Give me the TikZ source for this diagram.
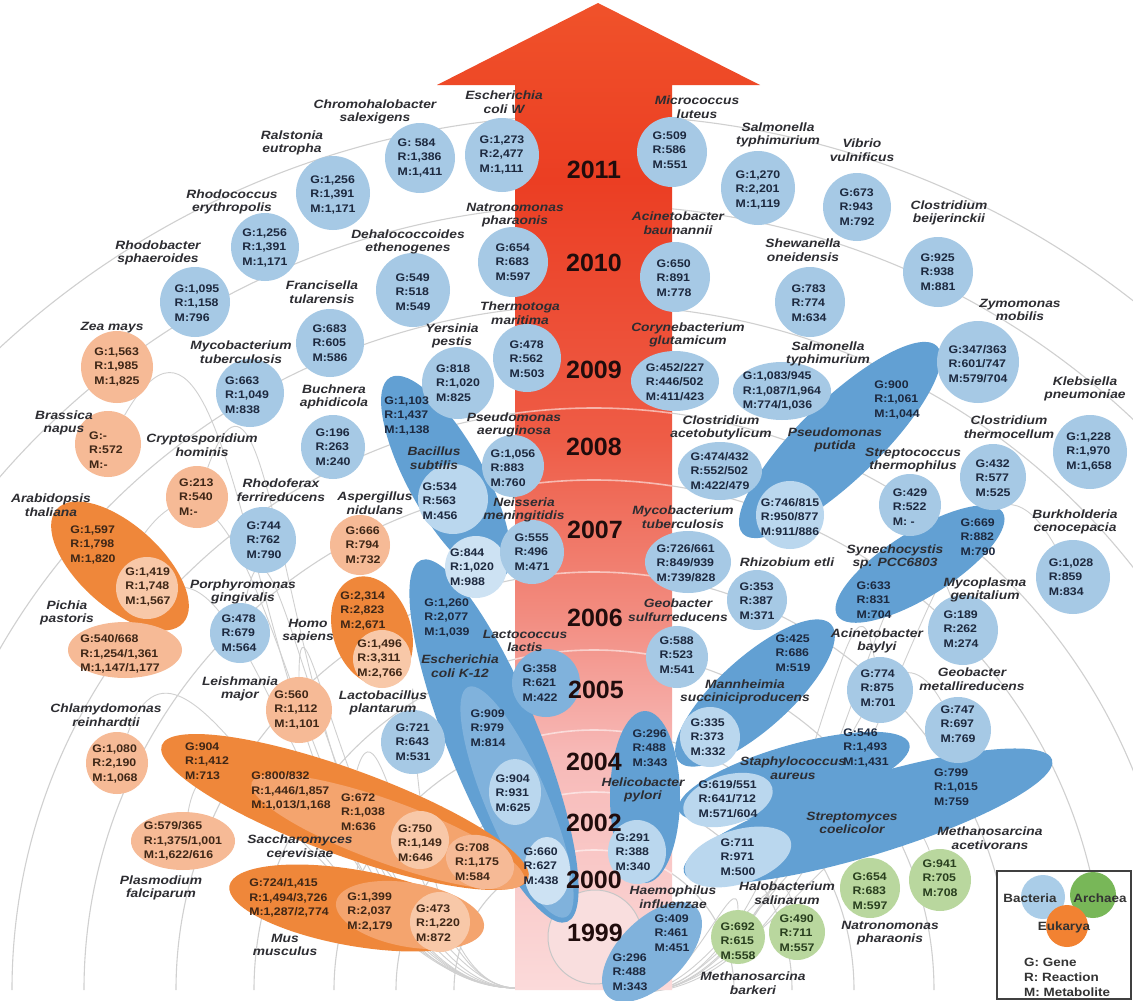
\documentclass[tikz,border=0pt]{standalone}
\usepackage{fontspec}
\setmainfont{Liberation Sans}
\newfontfamily\nmfont[FakeStretch=1.15]{Liberation Sans}
\newfontfamily\dtfont[FakeStretch=1.12]{Liberation Sans}
\usetikzlibrary{shapes.geometric}
\definecolor{bactc}{RGB}{166,201,229}
\definecolor{bactin}{RGB}{186,215,238}
\definecolor{bpale}{RGB}{205,226,243}
\definecolor{bmid}{RGB}{128,178,220}
\definecolor{grpb}{RGB}{98,160,211}
\definecolor{eukc}{RGB}{246,186,150}
\definecolor{eukmid}{RGB}{244,164,110}
\definecolor{eukd}{RGB}{239,135,58}
\definecolor{eukin}{RGB}{248,200,168}
\definecolor{archc}{RGB}{185,215,158}
\definecolor{namec}{RGB}{45,45,50}
\definecolor{datb}{RGB}{28,40,62}
\definecolor{date}{RGB}{62,38,22}
\definecolor{data}{RGB}{40,62,30}
\definecolor{ringc}{RGB}{208,208,208}
\definecolor{yearc}{RGB}{32,12,12}
\definecolor{legb}{RGB}{170,205,232}
\definecolor{lega}{RGB}{120,183,88}
\definecolor{lege}{RGB}{242,130,50}
\definecolor{pk}{RGB}{249,222,222}
\definecolor{arA}{RGB}{251,218,218}
\definecolor{arB}{RGB}{247,185,183}
\definecolor{arC}{RGB}{242,140,128}
\definecolor{arD}{RGB}{238,92,70}
\definecolor{arE}{RGB}{235,62,35}
\definecolor{arF}{RGB}{240,82,42}
\pgfdeclareverticalshading{arrowsh}{100bp}{color(0bp)=(arA); color(25bp)=(arA); color(37bp)=(arB); color(44bp)=(arC); color(53bp)=(arD); color(66bp)=(arE); color(75bp)=(arF); color(100bp)=(arF)}
\pgfdeclarelayer{back}
\pgfdeclarelayer{arr}
\pgfsetlayers{back,arr,main}
\tikzset{
  nm/.style={font=\nmfont\bfseries\itshape\fontsize{12}{13.5}\selectfont,text=namec,align=center,inner sep=0pt},
  dt/.style={font=\dtfont\bfseries\fontsize{11}{14.5}\selectfont,text=datb,align=left,inner sep=0pt},
  dte/.style={dt,text=date},
  dta/.style={dt,text=data},
  bc/.style={circle,fill=bactc,inner sep=0pt},
  bi/.style={fill=bactin,inner sep=0pt},
  gb/.style={ellipse,fill=grpb,inner sep=0pt},
  ec/.style={circle,fill=eukc,inner sep=0pt},
  ed/.style={ellipse,fill=eukd,inner sep=0pt},
  ac/.style={circle,fill=archc,inner sep=0pt},
  yr/.style={font=\bfseries\fontsize{25}{25}\selectfont,text=yearc,inner sep=0pt},
  ring/.style={draw=ringc,line width=1.1pt},
  fan/.style={draw=ringc,line width=0.9pt},
  lgt/.style={font=\dtfont\bfseries\fontsize{12}{14}\selectfont,text=black!80,inner sep=0pt},
}
\begin{document}
\begin{tikzpicture}[x=1pt,y=-1pt]
\useasboundingbox (0,0) rectangle (1133,1001);
\coordinate (B) at (594,990);
\begin{pgfonlayer}{back}
\fill[white] (0,0) rectangle (1133,1001);
\foreach \r in {140,198,260,340,418,510,582,685,785,875}
  \draw[ring] (B) ++(180:\r) arc[start angle=180,end angle=360,radius=\r];
\end{pgfonlayer}
\begin{pgfonlayer}{arr}
\shade[shading=arrowsh] (515,990) -- (515,85) -- (437,85) -- (598,3) -- (760,85) -- (672,85) -- (672,990) -- cycle;
\begin{scope}
\clip (515,85) rectangle (672,990);
\foreach \r in {140,198,260,340,418,510,582}
  \draw[white,opacity=.55,line width=1.6pt] (B) ++(180:\r) arc[start angle=180,end angle=360,radius=\r];
\end{scope}
\node[circle,draw=black!22,line width=1pt,fill=pk,minimum size=94pt] (c1999) at (595,937) {};
\end{pgfonlayer}

% ===== group ellipses (bacteria) =====
\node[gb,minimum width=390pt,minimum height=92pt,rotate=-68] (ecolik) at (494,741) {};
\node[ellipse,fill=bmid,inner sep=0pt,minimum width=250pt,minimum height=62pt,rotate=-67] (ecolikin) at (517,802) {};
\node[ellipse,fill=bactin,inner sep=0pt,minimum width=52pt,minimum height=66pt] (ecolik2) at (515,792) {};
\node[ellipse,fill=bpale,inner sep=0pt,minimum width=46pt,minimum height=68pt] (ecolik3) at (547,871) {};
\node[gb,minimum width=230pt,minimum height=76pt,rotate=-61] (bsub) at (446,478) {};
\node[bi,circle,minimum size=70pt] (bsubin) at (453,499) {};
\node[circle,fill=bpale,inner sep=0pt,minimum size=62pt] (bsubin2) at (476,567) {};
\node[gb,minimum width=270pt,minimum height=80pt,rotate=44] (putida) at (840,440) {};
\node[bi,circle,minimum size=68pt] (putin) at (790,515) {};
\node[gb,minimum width=195pt,minimum height=66pt,rotate=32] (synech) at (920,564) {};
\node[gb,minimum width=205pt,minimum height=72pt,rotate=42] (mann) at (755,693) {};
\node[bi,circle,minimum size=60pt] (mannin) at (710,737) {};
\node[gb,minimum width=240pt,minimum height=64pt,rotate=16] (staph) at (794,777) {};
\node[bi,ellipse,minimum width=92pt,minimum height=50pt,rotate=16] (staphin) at (728,800) {};
\node[gb,minimum width=385pt,minimum height=78pt,rotate=17] (strep) at (868,816) {};
\node[bi,ellipse,minimum width=110pt,minimum height=54pt,rotate=17] (strepin) at (738,857) {};
\node[gb,minimum width=70pt,minimum height=172pt] (helico) at (645,797) {};
\node[bi,ellipse,minimum width=58pt,minimum height=64pt] (helin) at (637,852) {};
\node[ellipse,fill=bmid,inner sep=0pt,minimum width=125pt,minimum height=66pt,rotate=45] (haemo) at (652,952) {};

% ===== group ellipses (eukarya) =====
\node[ed,minimum width=170pt,minimum height=82pt,rotate=-42] (arab) at (120,566) {};
\node[circle,fill=eukin,inner sep=0pt,minimum size=62pt] (arabin) at (147,588) {};
\node[ed,minimum width=112pt,minimum height=78pt,rotate=-72] (homo) at (372,631) {};
\node[circle,fill=eukin,inner sep=0pt,minimum size=58pt] (homoin) at (382,659) {};
\node[ed,minimum width=390pt,minimum height=86pt,rotate=-20] (sacch) at (345,812) {};
\node[ellipse,fill=eukmid,inner sep=0pt,minimum width=290pt,minimum height=62pt,rotate=-20] (sacchin) at (388,832) {};
\node[circle,fill=eukin,inner sep=0pt,minimum size=58pt] (sacchin2) at (420,840) {};
\node[ellipse,fill=eukc,inner sep=0pt,minimum width=70pt,minimum height=52pt,rotate=-20] (sacchin3) at (480,862) {};
\node[ed,minimum width=255pt,minimum height=76pt,rotate=-10] (mus) at (355,908) {};
\node[ellipse,fill=eukmid,inner sep=0pt,minimum width=150pt,minimum height=64pt,rotate=-10] (musin) at (410,915) {};
\node[circle,fill=eukin,inner sep=0pt,minimum size=60pt] (musin2) at (440,922) {};

% ===== single organisms =====
\node[bc,minimum size=70pt] (chrom) at (420,158) {};
\node[bc,minimum size=74pt] (ecw) at (502,155) {};
\node[bc,minimum size=74pt] (ralst) at (333,193) {};
\node[bc,minimum size=68pt] (rhodoc) at (265,247) {};
\node[bc,minimum size=70pt] (rhodob) at (195,302) {};
\node[ec,minimum size=72pt] (zea) at (117,367) {};
\node[bc,minimum size=74pt] (dehalo) at (413,290) {};
\node[bc,minimum size=68pt] (franc) at (330,343) {};
\node[bc,minimum size=68pt] (mtbl) at (250,393) {};
\node[bc,minimum size=70pt] (natt) at (513,262) {};
\node[bc,minimum size=68pt] (thermo) at (527,358) {};
\node[bc,minimum size=72pt] (yers) at (458,383) {};
\node[bc,minimum size=64pt] (buch) at (333,447) {};
\node[bc,minimum size=70pt] (micro) at (672,152) {};
\node[bc,minimum size=74pt] (salmt) at (758,188) {};
\node[bc,minimum size=68pt] (vibrio) at (857,207) {};
\node[bc,minimum size=70pt] (clbei) at (938,272) {};
\node[bc,minimum size=70pt] (acibau) at (675,277) {};
\node[bc,minimum size=70pt] (shew) at (810,302) {};
\node[ellipse,fill=bactc,inner sep=0pt,minimum width=88pt,minimum height=60pt] (coryne) at (675,381) {};
\node[ellipse,fill=bactc,inner sep=0pt,minimum width=98pt,minimum height=58pt] (salm2) at (782,391) {};
\node[bc,minimum size=82pt] (zymo) at (978,362) {};
\node[bc,minimum size=74pt] (kleb) at (1090,452) {};
\node[bc,minimum size=66pt] (clther) at (993,477) {};
\node[ellipse,fill=bactc,inner sep=0pt,minimum width=84pt,minimum height=58pt] (clacet) at (720,471) {};
\node[bc,minimum size=62pt] (strth) at (910,505) {};
\node[ellipse,fill=bactc,inner sep=0pt,minimum width=86pt,minimum height=62pt] (mtbr) at (688,562) {};
\node[bc,minimum size=60pt] (rhiz) at (757,600) {};
\node[bc,minimum size=62pt] (geosul) at (677,657) {};
\node[bc,minimum size=70pt] (myco) at (963,630) {};
\node[bc,minimum size=74pt] (burk) at (1073,577) {};
\node[bc,minimum size=66pt] (acibay) at (880,690) {};
\node[bc,minimum size=66pt] (geomet) at (958,730) {};
\node[ac,minimum size=56pt] (halo) at (797,932) {};
\node[ac,minimum size=54pt] (mbark) at (738,937) {};
\node[ac,minimum size=60pt] (natb) at (870,888) {};
\node[ac,minimum size=62pt] (macet) at (940,880) {};
\node[bc,minimum size=62pt] (paer) at (513,466) {};
\node[bc,minimum size=64pt] (neis) at (532,552) {};
\node[ec,minimum size=60pt] (asp) at (360,545) {};
\node[circle,fill=bmid,inner sep=0pt,minimum size=68pt] (lactis) at (546,683) {};
\node[bc,minimum size=64pt] (lactob) at (413,742) {};
\node[ec,minimum size=66pt] (leish) at (299,710) {};
\node[bc,minimum size=66pt] (rhodof) at (263,540) {};
\node[bc,minimum size=60pt] (porph) at (240,633) {};
\node[ec,minimum size=66pt] (brass) at (108,444) {};
\node[ec,minimum size=62pt] (crypt) at (197,497) {};
\node[ellipse,fill=eukc,inner sep=0pt,minimum width=114pt,minimum height=56pt] (pichia) at (125,650) {};
\node[ec,minimum size=62pt] (chlam) at (117,763) {};
\node[ellipse,fill=eukc,inner sep=0pt,minimum width=104pt,minimum height=58pt] (plasm) at (183,841) {};

% ===== fan lines behind =====
\begin{pgfonlayer}{back}
\coordinate (rootL) at (516,988);
\coordinate (rootR) at (640,992);
\foreach \t/\a in {chlam/70,plasm/80,mus/90,sacch/80,leish/90,lactob/90,pichia/60,arab/60,brass/60,porph/80,crypt/70}
  \draw[fan] (rootL) to[out=180,in=\a] (\t);
\foreach \t/\a in {mbark/90,halo/100,natb/110,macet/110,geomet/120,burk/120,myco/110,acibay/100}
  \draw[fan] (rootR) to[out=0,in=\a] (\t);
\end{pgfonlayer}

% ===== data texts =====
\node[dt] (chromt) at (420,158) {G: 584\\R:1,386\\M:1,411};
\node[dt] (ecwt) at (502,155) {G:1,273\\R:2,477\\M:1,111};
\node[dt] (ralstt) at (333,195) {G:1,256\\R:1,391\\M:1,171};
\node[dt] (rhodoct) at (265,248) {G:1,256\\R:1,391\\M:1,171};
\node[dt] (rhodobt) at (197,303) {G:1,095\\R:1,158\\M:796};
\node[dte] (zeat) at (117,367) {G:1,563\\R:1,985\\M:1,825};
\node[dt] (dehalot) at (413,292) {G:549\\R:518\\M:549};
\node[dt] (franct) at (330,343) {G:683\\R:605\\M:586};
\node[dt] (mtblt) at (247,395) {G:663\\R:1,049\\M:838};
\node[dt] (nattt) at (513,262) {G:654\\R:683\\M:597};
\node[dt] (thermot) at (527,359) {G:478\\R:562\\M:503};
\node[dt] (yerst) at (458,383) {G:818\\R:1,020\\M:825};
\node[dt] (bucht) at (333,447) {G:196\\R:263\\M:240};
\node[dt] (microt) at (670,150) {G:509\\R:586\\M:551};
\node[dt] (salmtt) at (758,190) {G:1,270\\R:2,201\\M:1,119};
\node[dt] (vibriot) at (857,207) {G:673\\R:943\\M:792};
\node[dt] (clbeit) at (938,272) {G:925\\R:938\\M:881};
\node[dt] (acibaut) at (674,278) {G:650\\R:891\\M:778};
\node[dt] (shewt) at (809,303) {G:783\\R:774\\M:634};
\node[dt] (corynet) at (675,382) {G:452/227\\R:446/502\\M:411/423};
\node[dt] (salm2t) at (782,391) {G:1,083/945\\R:1,087/1,964\\M:774/1,036};
\node[dt] (zymot) at (978,364) {G:347/363\\R:601/747\\M:579/704};
\node[dt] (klebt) at (1089,452) {G:1,228\\R:1,970\\M:1,658};
\node[dt] (clthert) at (993,478) {G:432\\R:577\\M:525};
\node[dt] (putidat) at (897,400) {G:900\\R:1,061\\M:1,044};
\node[dt] (putint) at (790,517) {G:746/815\\R:950/877\\M:911/886};
\node[dt] (clacett) at (720,471) {G:474/432\\R:552/502\\M:422/479};
\node[dt] (strtht) at (910,507) {G:429\\R:522\\M: -};
\node[dt] (mtbrt) at (686,563) {G:726/661\\R:849/939\\M:739/828};
\node[dt] (synecht) at (978,537) {G:669\\R:882\\M:790};
\node[dt] (synech2t) at (874,600) {G:633\\R:831\\M:704};
\node[dt] (rhizt) at (757,601) {G:353\\R:387\\M:371};
\node[dt] (geosult) at (677,655) {G:588\\R:523\\M:541};
\node[dt] (mycot) at (961,629) {G:189\\R:262\\M:274};
\node[dt] (burkt) at (1071,577) {G:1,028\\R:859\\M:834};
\node[dt] (acibayt) at (878,688) {G:774\\R:875\\M:701};
\node[dt] (geomett) at (958,724) {G:747\\R:697\\M:769};
\node[dt] (mannt) at (793,653) {G:425\\R:686\\M:519};
\node[dt] (mannint) at (708,737) {G:335\\R:373\\M:332};
\node[dt] (staphit) at (866,748) {G:546\\R:1,493\\M:1,431};
\node[dt] (staphint) at (728,799) {G:619/551\\R:641/712\\M:571/604};
\node[dt] (strept) at (956,787) {G:799\\R:1,015\\M:759};
\node[dt] (strepint) at (738,857) {G:711\\R:971\\M:500};
\node[dt] (helicot) at (650,748) {G:296\\R:488\\M:343};
\node[dt] (helint) at (633,852) {G:291\\R:388\\M:340};
\node[dt] (haemot) at (672,933) {G:409\\R:461\\M:451};
\node[dt] (haemo2t) at (630,972) {G:296\\R:488\\M:343};
\node[dta] (halot) at (797,933) {G:490\\R:711\\M:557};
\node[dta] (mbarkt) at (738,941) {G:692\\R:615\\M:558};
\node[dta] (natbt) at (870,891) {G:654\\R:683\\M:597};
\node[dta] (macett) at (940,878) {G:941\\R:705\\M:708};
\node[dt] (bsubt) at (407,416) {G:1,103\\R:1,437\\M:1,138};
\node[dt] (bsubint) at (440,501) {G:534\\R:563\\M:456};
\node[dt] (bsubin2t) at (472,567) {G:844\\R:1,020\\M:988};
\node[dt] (paert) at (513,468) {G:1,056\\R:883\\M:760};
\node[dt] (neist) at (532,552) {G:555\\R:496\\M:471};
\node[dte] (aspt) at (363,545) {G:666\\R:794\\M:732};
\node[dte] (homot) at (363,611) {G:2,314\\R:2,823\\M:2,671};
\node[dte] (homoint) at (380,659) {G:1,496\\R:3,311\\M:2,766};
\node[dt] (ecolikt) at (447,618) {G:1,260\\R:2,077\\M:1,039};
\node[dt] (ecolik1t) at (488,728) {G:909\\R:979\\M:814};
\node[dt] (ecolik2t) at (513,793) {G:904\\R:931\\M:625};
\node[dt] (ecolik3t) at (541,866) {G:660\\R:627\\M:438};
\node[dt] (lactist) at (540,683) {G:358\\R:621\\M:422};
\node[dt] (lactobt) at (413,742) {G:721\\R:643\\M:531};
\node[dte] (leisht) at (297,710) {G:560\\R:1,112\\M:1,101};
\node[dt] (rhodoft) at (264,540) {G:744\\R:762\\M:790};
\node[dt] (porpht) at (239,633) {G:478\\R:679\\M:564};
\node[dte,anchor=west] (brasst) at (89,450) {G:-\\R:572\\M:-};
\node[dte,anchor=west] (cryptt) at (179,497) {G:213\\R:540\\M:-};
\node[dte] (arabt) at (93,545) {G:1,597\\R:1,798\\M:1,820};
\node[dte] (arabint) at (148,587) {G:1,419\\R:1,748\\M:1,567};
\node[dte] (pichiat) at (120,654) {G:540/668\\R:1,254/1,361\\M:1,147/1,177};
\node[dte] (chlamt) at (115,764) {G:1,080\\R:2,190\\M:1,068};
\node[dte] (plasmt) at (183,841) {G:579/365\\R:1,375/1,001\\M:1,622/616};
\node[dte] (saccht) at (207,761) {G:904\\R:1,412\\M:713};
\node[dte] (sacch1t) at (291,791) {G:800/832\\R:1,446/1,857\\M:1,013/1,168};
\node[dte] (sacch2t) at (363,812) {G:672\\R:1,038\\M:636};
\node[dte] (sacch3t) at (420,843) {G:750\\R:1,149\\M:646};
\node[dte] (sacch4t) at (477,862) {G:708\\R:1,175\\M:584};
\node[dte] (must) at (289,898) {G:724/1,415\\R:1,494/3,726\\M:1,287/2,774};
\node[dte] (mus1t) at (370,912) {G:1,399\\R:2,037\\M:2,179};
\node[dte] (mus2t) at (438,923) {G:473\\R:1,220\\M:872};

% ===== species names =====
\node[nm] (chromn) at (375,112) {Chromohalobacter\\salexigens};
\node[nm] (ecwn) at (504,102) {Escherichia\\coli W};
\node[nm] (ralstn) at (292,143) {Ralstonia\\eutropha};
\node[nm] (rhodocn) at (232,202) {Rhodococcus\\erythropolis};
\node[nm] (rhodobn) at (158,253) {Rhodobacter\\sphaeroides};
\node[nm] (zean) at (112,328) {Zea mays};
\node[nm] (mtbln) at (241,352) {Mycobacterium\\tuberculosis};
\node[nm] (francn) at (322,292) {Francisella\\tularensis};
\node[nm] (dehalon) at (408,242) {Dehalococcoides\\ethenogenes};
\node[nm] (nattn) at (515,215) {Natronomonas\\pharaonis};
\node[nm] (thermon) at (520,313) {Thermotoga\\maritima};
\node[nm] (yersn) at (452,336) {Yersinia\\pestis};
\node[nm] (buchn) at (334,397) {Buchnera\\aphidicola};
\node[nm] (micron) at (697,107) {Micrococcus\\luteus};
\node[nm] (salmtn) at (778,135) {Salmonella\\typhimurium};
\node[nm] (vibrion) at (862,150) {Vibrio\\vulnificus};
\node[nm] (clbein) at (949,213) {Clostridium\\beijerinckii};
\node[nm] (acibaun) at (678,223) {Acinetobacter\\baumannii};
\node[nm] (shewn) at (803,250) {Shewanella\\oneidensis};
\node[nm] (corynen) at (688,335) {Corynebacterium\\glutamicum};
\node[nm] (salm2n) at (828,354) {Salmonella\\typhimurium};
\node[nm] (zymon) at (1020,310) {Zymomonas\\mobilis};
\node[nm] (klebn) at (1085,389) {Klebsiella\\pneumoniae};
\node[nm] (clthern) at (1009,427) {Clostridium\\thermocellum};
\node[nm] (putidan) at (835,440) {Pseudomonas\\putida};
\node[nm] (clacetn) at (721,428) {Clostridium\\acetobutylicum};
\node[nm] (strthn) at (913,460) {Streptococcus\\thermophilus};
\node[nm] (mtbrn) at (683,517) {Mycobacterium\\tuberculosis};
\node[nm] (rhizn) at (787,562) {Rhizobium etli};
\node[nm] (geosuln) at (678,610) {Geobacter\\sulfurreducens};
\node[nm] (synechn) at (895,557) {Synechocystis\\sp. PCC6803};
\node[nm] (mycon) at (985,590) {Mycoplasma\\genitalium};
\node[nm] (burkn) at (1075,522) {Burkholderia\\cenocepacia};
\node[nm] (acibayn) at (877,641) {Acinetobacter\\baylyi};
\node[nm] (geometn) at (972,679) {Geobacter\\metallireducens};
\node[nm] (mannn) at (745,692) {Mannheimia\\succiniciproducens};
\node[nm] (staphn) at (793,768) {Staphylococcus\\aureus};
\node[nm] (strepn) at (852,823) {Streptomyces\\coelicolor};
\node[nm] (helicon) at (643,790) {Helicobacter\\pylori};
\node[nm] (haemon) at (673,897) {Haemophilus\\influenzae};
\node[nm] (halon) at (787,893) {Halobacterium\\salinarum};
\node[nm] (mbarkn) at (753,983) {Methanosarcina\\barkeri};
\node[nm] (natbn) at (890,933) {Natronomonas\\pharaonis};
\node[nm] (macetn) at (990,838) {Methanosarcina\\acetivorans};
\node[nm] (bsubn) at (434,458) {Bacillus\\subtilis};
\node[nm] (paern) at (514,425) {Pseudomonas\\aeruginosa};
\node[nm] (neisn) at (524,510) {Neisseria\\meningitidis};
\node[nm] (aspn) at (375,503) {Aspergillus\\nidulans};
\node[nm] (homon) at (308,631) {Homo\\sapiens};
\node[nm] (ecolikn) at (460,666) {Escherichia\\coli K-12};
\node[nm] (lactisn) at (525,641) {Lactococcus\\lactis};
\node[nm] (lactobn) at (383,703) {Lactobacillus\\plantarum};
\node[nm] (leishn) at (240,689) {Leishmania\\major};
\node[nm] (rhodofn) at (281,490) {Rhodoferax\\ferrireducens};
\node[nm] (porphn) at (243,592) {Porphyromonas\\gingivalis};
\node[nm] (brassn) at (64,423) {Brassica\\napus};
\node[nm] (cryptn) at (202,445) {Cryptosporidium\\hominis};
\node[nm] (arabn) at (51,505) {Arabidopsis\\thaliana};
\node[nm] (pichian) at (67,613) {Pichia\\pastoris};
\node[nm] (chlamn) at (106,715) {Chlamydomonas\\reinhardtii};
\node[nm] (plasmn) at (161,888) {Plasmodium\\falciparum};
\node[nm] (sacchn) at (300,846) {Saccharomyces\\cerevisiae};
\node[nm] (musn) at (285,945) {Mus\\musculus};

% ===== years =====
\node[yr] (y2011) at (594,170) {2011};
\node[yr] (y2010) at (594,263) {2010};
\node[yr] (y2009) at (594,370) {2009};
\node[yr] (y2008) at (594,447) {2008};
\node[yr] (y2007) at (595,530) {2007};
\node[yr] (y2006) at (595,618) {2006};
\node[yr] (y2005) at (596,690) {2005};
\node[yr] (y2004) at (594,762) {2004};
\node[yr] (y2002) at (594,823) {2002};
\node[yr] (y2000) at (594,880) {2000};
\node[yr] (y1999) at (595,933) {1999};

% ===== legend =====
\draw[draw=black!75,line width=1.8pt,fill=white] (997,871) rectangle (1131,999);
\node[circle,fill=legb,inner sep=0pt,minimum size=44pt] (lgb) at (1043,897) {};
\node[circle,fill=lega,inner sep=0pt,minimum size=46pt] (lga) at (1093,895) {};
\node[circle,fill=lege,inner sep=0pt,minimum size=42pt] (lge) at (1067,926) {};
\node[lgt] (lgbt) at (1030,898) {Bacteria};
\node[lgt] (lgat) at (1100,898) {Archaea};
\node[lgt] (lget) at (1064,927) {Eukarya};
\node[lgt,anchor=west] (lg1) at (1024,962) {G: Gene};
\node[lgt,anchor=west] (lg2) at (1024,977) {R: Reaction};
\node[lgt,anchor=west] (lg3) at (1024,992) {M: Metabolite};
\end{tikzpicture}
\end{document}
